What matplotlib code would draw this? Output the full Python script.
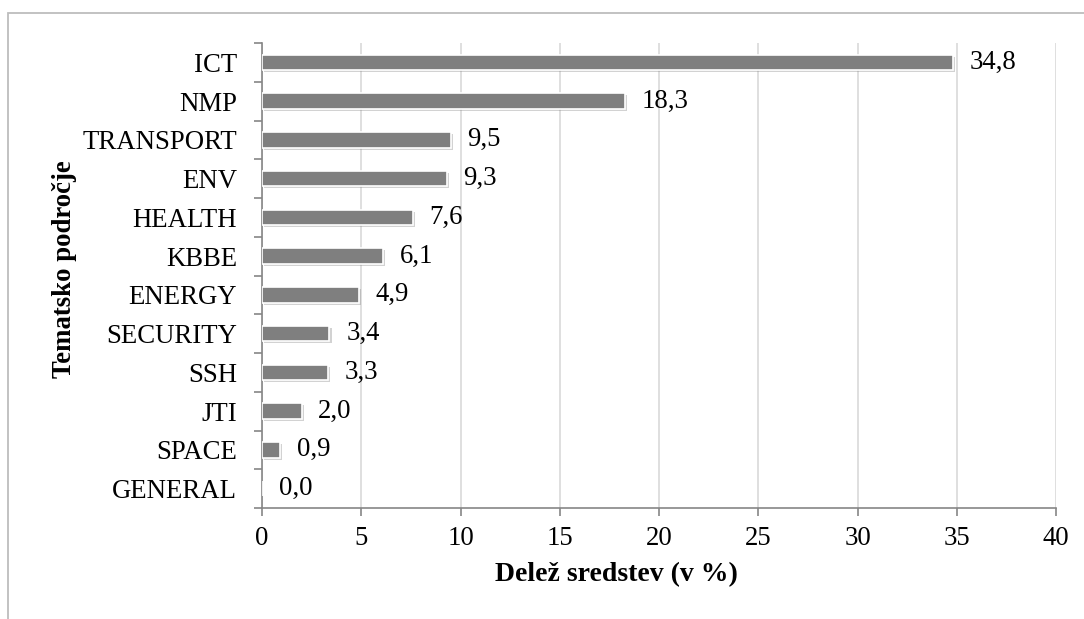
import matplotlib
matplotlib.use("Agg")
import matplotlib.pyplot as plt
import matplotlib.patheffects as pe
from matplotlib.patches import Rectangle
import numpy as np

categories = ["ICT", "NMP", "TRANSPORT", "ENV", "HEALTH", "KBBE", "ENERGY",
              "SECURITY", "SSH", "JTI", "SPACE", "GENERAL"]
shares = [34.8, 18.3, 9.5, 9.3, 7.6, 6.1, 4.9, 3.4, 3.3, 2.0, 0.9, 0.0]
x_ticks = [0, 5, 10, 15, 20, 25, 30, 35, 40]

plt.rcParams["font.family"] = ["Liberation Serif", "DejaVu Serif"]
FS = 19.3

fig = plt.figure(figsize=(10.84, 6.19), dpi=100)
ax = fig.add_axes([0.2417, 0.1793, 0.7325, 0.7512])

# outer frame of the chart area
fig.patches.append(Rectangle((8 / 1084, -0.1), 1.2, 1.1 - 13 / 619,
                             transform=fig.transFigure, fill=False,
                             edgecolor="#bdbdbd", linewidth=1.3, zorder=0))

y = np.arange(len(categories))
bars = ax.barh(y, shares, height=0.40, color="#7f7f7f", edgecolor="white",
               linewidth=1.2, zorder=3)
for b in bars:
    b.set_path_effects([pe.SimplePatchShadow(offset=(1.5, -1.5), alpha=0.35,
                                             shadow_rgbFace="#808080"),
                        pe.Normal()])

for yi, v in zip(y, shares):
    ax.annotate(f"{v:.1f}".replace(".", ","), xy=(v, yi), xytext=(12, 0),
                textcoords="offset points", va="center", ha="left",
                fontsize=FS, color="black")

ax.set_ylim(len(categories) - 0.5, -0.5)
ax.set_xlim(0, 40)
ax.set_xticks(x_ticks)
ax.set_xticklabels([str(t) for t in x_ticks], fontsize=FS)
ax.set_yticks(y)
ax.set_yticklabels(categories, fontsize=FS)
ax.set_yticks(np.arange(-0.5, len(categories), 1), minor=True)

ax.tick_params(axis="y", which="major", length=0, pad=18)
ax.tick_params(axis="y", which="minor", length=6, direction="out",
               color="#868686", width=1.2)
ax.tick_params(axis="x", which="major", length=6, direction="out",
               color="#868686", width=1.2, pad=7)

ax.grid(axis="x", color="#d9d9d9", linewidth=1.2, zorder=0)
ax.set_axisbelow(True)
for s in ["top", "right"]:
    ax.spines[s].set_visible(False)
for s in ["left", "bottom"]:
    ax.spines[s].set_color("#868686")
    ax.spines[s].set_linewidth(1.2)

ax.set_xlabel("Delež sredstev (v %)", fontsize=20, fontweight="bold")
ax.set_ylabel("Tematsko področje", fontsize=FS, fontweight="bold")
ax.xaxis.label.set_va("center")
ax.yaxis.label.set_va("center")
ax.xaxis.set_label_coords(0.446, -0.144)
ax.yaxis.set_label_coords(-0.249, 0.514)

fig.savefig("out.png", dpi=100, facecolor="white")
